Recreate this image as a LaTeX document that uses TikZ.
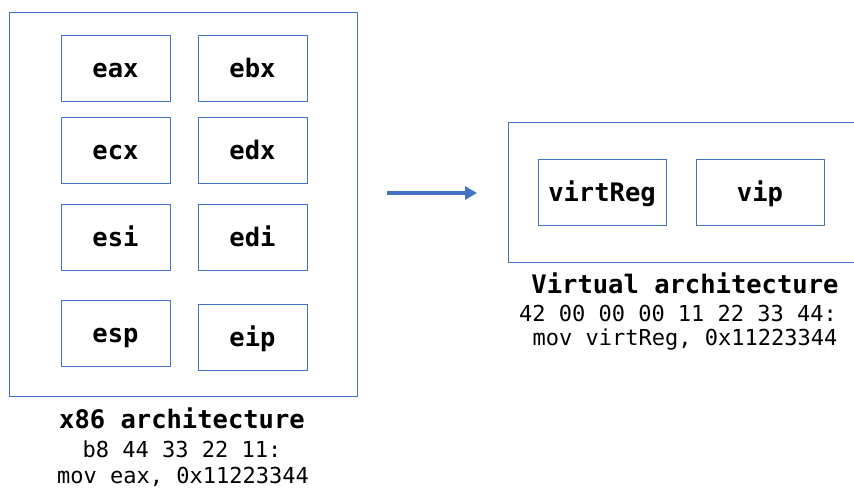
\documentclass[tikz,border=0pt]{standalone}
\usepackage{fontspec}
\setmonofont{DejaVu Sans Mono}
\usetikzlibrary{arrows.meta}
\definecolor{regblue}{HTML}{4472C4}
\begin{document}
\begin{tikzpicture}[x=1pt,y=-1pt,
    frame/.style={draw=regblue,line width=0.9pt,inner sep=0pt},
    reg/.style={frame,minimum width=109pt,minimum height=66pt,
      text height=18pt,text depth=0pt,
      font=\fontsize{25.5}{30}\selectfont\ttfamily\bfseries},
    vreg/.style={reg,minimum width=128pt},
    title/.style={font=\fontsize{25.5}{30}\selectfont\ttfamily\bfseries},
    code/.style={font=\fontsize{22}{26}\selectfont\ttfamily}]
  \useasboundingbox (0,0) rectangle (854,488);
  \clip (0,0) rectangle (854,488);
  % x86 side
  \node[frame,minimum width=348pt,minimum height=384pt] (x86) at (183,204) {};
  \node[reg] (eax) at (115.5,68) {eax};
  \node[reg] (ebx) at (252.5,68) {ebx};
  \node[reg] (ecx) at (115.5,150) {ecx};
  \node[reg] (edx) at (252.5,150) {edx};
  \node[reg] (esi) at (115.5,237.5) {esi};
  \node[reg] (edi) at (252.5,237.5) {edi};
  \node[reg] (esp) at (115.5,333) {esp};
  \node[reg] (eip) at (252.5,337.5) {eip};
  \node[title] (x86name) at (182,418) {x86 architecture};
  \node[code] (x86bytes) at (182,449) {b8 44 33 22 11:};
  \node[code] (x86asm) at (183,477) {mov eax, 0x11223344};
  % virtual side
  \node[frame,minimum width=362pt,minimum height=140pt] (virt) at (689,192) {};
  \node[vreg] (virtReg) at (602,192) {virtReg};
  \node[vreg] (vip) at (760,192) {vip};
  \node[title] (virtname) at (685,283) {Virtual architecture};
  \node[code] (virtbytes) at (678,313) {42 00 00 00 11 22 33 44:};
  \node[code] (virtasm) at (685,339) {mov virtReg, 0x11223344};
  % arrow
  \coordinate (from) at (387,193);
  \coordinate (to) at (477,193);
  \draw[regblue,line width=3.6pt,-{Triangle[length=12pt,width=13pt]}] (from) -- (to);
\end{tikzpicture}
\end{document}
